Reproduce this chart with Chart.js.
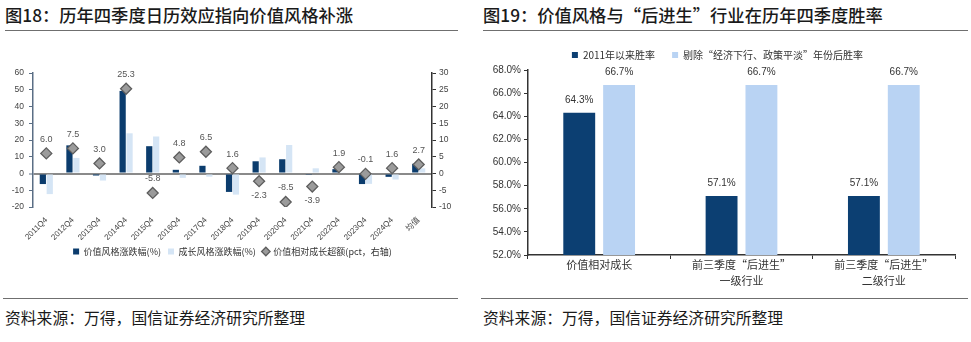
<!DOCTYPE html>
<html><head><meta charset="utf-8">
<script src="https://cdn.jsdelivr.net/npm/chart.js@4/dist/chart.umd.min.js"></script>
<style>
body{margin:0;width:971px;height:342px;background:#fff;position:relative;overflow:hidden;font-family:'Noto Sans CJK SC',sans-serif;}
.title{position:absolute;top:2px;font-size:17.3px;color:#1a1a1a;font-weight:500;white-space:nowrap;}
.rule{position:absolute;height:0;border-top:1.5px solid #6f6f6f;}
.src{position:absolute;top:306px;font-size:15.8px;color:#1a1a1a;white-space:nowrap;}
#c1{position:absolute;left:0;top:55px;}
#c2{position:absolute;left:480px;top:24px;}
</style></head>
<body>
<div class="title" style="left:5px">图18：历年四季度日历效应指向价值风格补涨</div>
<div class="rule" style="left:5px;width:453px;top:30px"></div>
<div class="title" style="left:483px">图19：价值风格与“后进生”行业在历年四季度胜率</div>
<div class="rule" style="left:483px;width:485px;top:30px"></div>
<canvas id="c1" width="465" height="211"></canvas>
<canvas id="c2" width="491" height="272"></canvas>
<div class="rule" style="left:3px;width:455px;top:298px"></div>
<div class="rule" style="left:481px;width:487px;top:298px"></div>
<div class="src" style="left:5px">资料来源：万得，国信证券经济研究所整理</div>
<div class="src" style="left:483px">资料来源：万得，国信证券经济研究所整理</div>
<script>
// ---- Chart 18 data ----
const quarters = ['2011Q4','2012Q4','2013Q4','2014Q4','2015Q4','2016Q4','2017Q4','2018Q4','2019Q4','2020Q4','2021Q4','2022Q4','2023Q4','2024Q4','均值'];
const valueChange = [-6.3,16.8,-1.2,49.3,16.3,2.2,4.6,-11.0,7.3,8.5,-0.8,2.6,-6.3,-2.0,5.8];
const growthChange = [-12.3,9.3,-4.2,24.0,22.1,-2.6,-1.9,-12.6,9.6,17.0,3.1,0.7,-6.2,-3.6,3.1];
const excessReturn = [6.0,7.5,3.0,25.3,-5.8,4.8,6.5,1.6,-2.3,-8.5,-3.9,1.9,-0.1,1.6,2.7];
const excessLabelSide = ['up','up','up','up','up','up','up','up','down','up','down','up','up','up','up'];

// ---- Chart 19 data ----
const rateCategories = ['价值相对成长', ['前三季度“后进生”','一级行业'], ['前三季度“后进生”','二级行业']];
const winRateSince2011 = [64.3, 57.1, 57.1];
const winRateExcluded = [66.7, 66.7, 66.7];

const FONT = "'Liberation Sans','Noto Sans CJK SC',sans-serif";
const CJK = "'Noto Sans CJK SC',sans-serif";
Chart.defaults.font.family = FONT;
Chart.defaults.color = '#333';
Chart.defaults.animation = false;

const diamondLabels = {
  id:'diamondLabels',
  afterDatasetsDraw(chart){
    const meta = chart.getDatasetMeta(2);
    const ctx = chart.ctx;
    ctx.save();
    ctx.font = '9px ' + FONT;
    ctx.fillStyle = '#555';
    ctx.textAlign = 'center';
    ctx.textBaseline = 'middle';
    meta.data.forEach((pt,i)=>{
      const dy = excessLabelSide[i]==='up' ? -14 : 14;
      ctx.fillText(excessReturn[i].toFixed(1), pt.x, pt.y + dy);
    });
    ctx.restore();
  }
};

new Chart(document.getElementById('c1'), {
  type:'bar',
  data:{
    labels: quarters,
    datasets:[
      {label:'价值风格涨跌幅(%)', data:valueChange, backgroundColor:'#0b3c6d', yAxisID:'y', order:1, pointStyle:'rect',
       categoryPercentage:0.52, barPercentage:0.9},
      {label:'成长风格涨跌幅(%)', data:growthChange, backgroundColor:'#d5e5f5', yAxisID:'y', order:2, pointStyle:'rect',
       categoryPercentage:0.52, barPercentage:0.9},
      {type:'line', label:'价值相对成长超额(pct，右轴)', data:excessReturn, yAxisID:'y2', order:0, showLine:false,
       pointStyle:'rectRot', pointRadius:5.5, pointBackgroundColor:'#9b9b9b', pointBorderColor:'#5e5e5e', pointBorderWidth:1.3,
       backgroundColor:'#9b9b9b', borderColor:'#5e5e5e'}
    ]
  },
  options:{
    responsive:false, devicePixelRatio:1,
    layout:{padding:{top:18,left:0,right:0,bottom:0}},
    plugins:{
      tooltip:{enabled:false},
      legend:{position:'bottom',
        labels:{usePointStyle:true, boxWidth:6, boxHeight:6, font:{size:9, family:CJK}, color:'#333', padding:7,
                sort:(a,b)=>a.datasetIndex-b.datasetIndex}}
    },
    scales:{
      x:{grid:{display:false}, border:{display:false},
         ticks:{maxRotation:45, minRotation:45, font:{size:8, lineHeight:1}, color:'#444', padding:1, autoSkip:false},
         afterFit(s){s.height=33;}},
      y:{position:'left', min:-20, max:60,
         ticks:{stepSize:10, font:{size:8.5}, color:'#444', padding:5},
         grid:{color:c=>c.tick && c.tick.value===0?'#8a8a8a':'rgba(0,0,0,0)', lineWidth:c=>c.tick && c.tick.value===0?2:1,
               tickColor:'#5a6e85', tickLength:4, tickWidth:1},
         border:{color:'#5a6e85', width:1.5},
         afterFit(s){s.width=33;}},
      y2:{position:'right', min:-10, max:30,
         ticks:{stepSize:5, font:{size:8.5}, color:'#444', padding:3},
         grid:{drawOnChartArea:false, tickColor:'#333', tickLength:4, tickWidth:1},
         border:{color:'#333', width:1.5},
         afterFit(s){s.width=33;}}
    }
  },
  plugins:[diamondLabels]
});

const barLabels = {
  id:'barLabels',
  afterDatasetsDraw(chart){
    const ctx = chart.ctx;
    ctx.save();
    ctx.font = '10px ' + FONT;
    ctx.fillStyle = '#333';
    ctx.textAlign = 'center';
    ctx.textBaseline = 'middle';
    chart.data.datasets.forEach((ds,di)=>{
      chart.getDatasetMeta(di).data.forEach((bar,i)=>{
        ctx.fillText(ds.data[i].toFixed(1)+'%', bar.x, bar.y - 13);
      });
    });
    ctx.restore();
  }
};

new Chart(document.getElementById('c2'), {
  type:'bar',
  data:{
    labels: rateCategories,
    datasets:[
      {label:'2011年以来胜率', data:winRateSince2011, backgroundColor:'#0c3f72', pointStyle:'rect',
       categoryPercentage:0.56, barPercentage:0.8},
      {label:'剔除“经济下行、政策平淡”年份后胜率', data:winRateExcluded, backgroundColor:'#b9d3f3', pointStyle:'rect',
       categoryPercentage:0.56, barPercentage:0.8}
    ]
  },
  options:{
    responsive:false, devicePixelRatio:1,
    layout:{padding:{top:0,right:16,left:0,bottom:0}},
    plugins:{
      tooltip:{enabled:false},
      legend:{position:'top', labels:{usePointStyle:true, boxWidth:6, boxHeight:6, font:{size:10, family:CJK}, color:'#333', padding:17}}
    },
    scales:{
      x:{grid:{drawOnChartArea:false, color:'#333', tickLength:4},
         border:{color:'#333', width:1.5},
         ticks:{font:{size:11, family:CJK, lineHeight:1.45}, color:'#333', padding:-2},
         afterFit(s){s.height=41;}},
      y:{min:52, max:68,
         ticks:{stepSize:2, font:{size:10}, color:'#333', padding:3, callback:v=>v.toFixed(1)+'%'},
         grid:{drawOnChartArea:false, color:'#333', tickLength:4},
         border:{color:'#333', width:1.5},
         afterFit(s){s.width=48; s.paddingTop=46;}}
    }
  },
  plugins:[barLabels]
});
</script>
</body></html>
